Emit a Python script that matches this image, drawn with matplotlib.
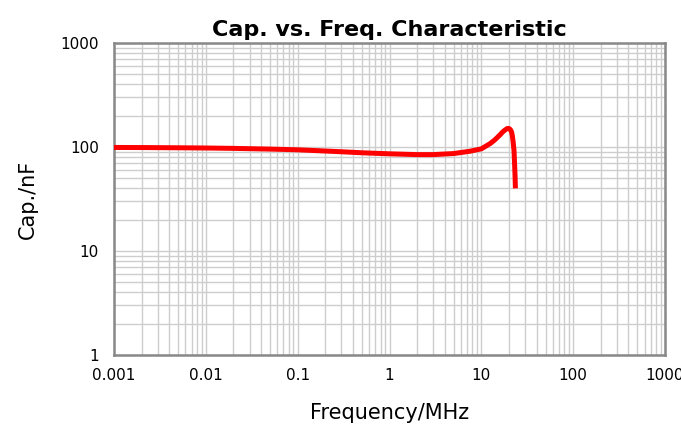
import matplotlib
matplotlib.use("Agg")
import matplotlib.pyplot as plt
from matplotlib.ticker import LogLocator, FixedLocator, NullFormatter

freq_mhz = [0.001, 0.002, 0.005, 0.01, 0.02, 0.05, 0.1, 0.2, 0.3, 0.5, 1, 2, 3, 5, 7.5,
            10, 12.5, 14, 16, 17, 18, 19, 19.5, 20.2, 20.8, 21.3, 21.7, 22.2, 22.7, 23.0, 23.3, 23.5]
cap_nf = [99, 98.8, 98.3, 97.8, 97, 95.5, 94, 91.5, 90, 88, 86, 84.5, 84.5, 86.5, 91,
          96, 108, 117, 131, 139, 145, 150, 151, 150, 146, 140, 130, 112, 92, 70, 52, 40]

x_ticks = [0.001, 0.01, 0.1, 1, 10, 100, 1000]
x_labels = ["0.001", "0.01", "0.1", "1", "10", "100", "1000"]
y_ticks = [1, 10, 100, 1000]
y_labels = ["1", "10", "100", "1000"]

fig = plt.figure(figsize=(6.81, 4.28), dpi=100)
ax = fig.add_axes([114/681, 1 - 355/428, (665-114)/681, (355-43)/428])
ax.set_xscale("log")
ax.set_yscale("log")
ax.set_xlim(0.001, 1000)
ax.set_ylim(1, 1000)

ax.plot(freq_mhz, cap_nf, color="#ff0000", lw=3.6, solid_capstyle="butt", zorder=3)

ax.xaxis.set_major_locator(FixedLocator(x_ticks))
ax.yaxis.set_major_locator(FixedLocator(y_ticks))
ax.xaxis.set_minor_locator(LogLocator(base=10, subs=range(2, 10), numticks=20))
ax.yaxis.set_minor_locator(LogLocator(base=10, subs=range(2, 10), numticks=20))
ax.xaxis.set_minor_formatter(NullFormatter())
ax.yaxis.set_minor_formatter(NullFormatter())
ax.set_xticklabels(x_labels)
ax.set_yticklabels(y_labels)
ax.grid(True, which="both", color="#cdcdcd", lw=1.0)
ax.tick_params(which="both", length=0, labelsize=11, colors="black")
ax.tick_params(axis="y", pad=11)
ax.tick_params(axis="x", pad=9)
for s in ax.spines.values():
    s.set_color("#888888")
    s.set_linewidth(1.8)

ax.set_title("Cap. vs. Freq. Characteristic", fontsize=16, fontweight="bold", pad=5)
ax.set_xlabel("Frequency/MHz", fontsize=15, labelpad=15)
ax.set_ylabel("Cap./nF", fontsize=15, labelpad=16)

fig.savefig("out.png", dpi=100)
